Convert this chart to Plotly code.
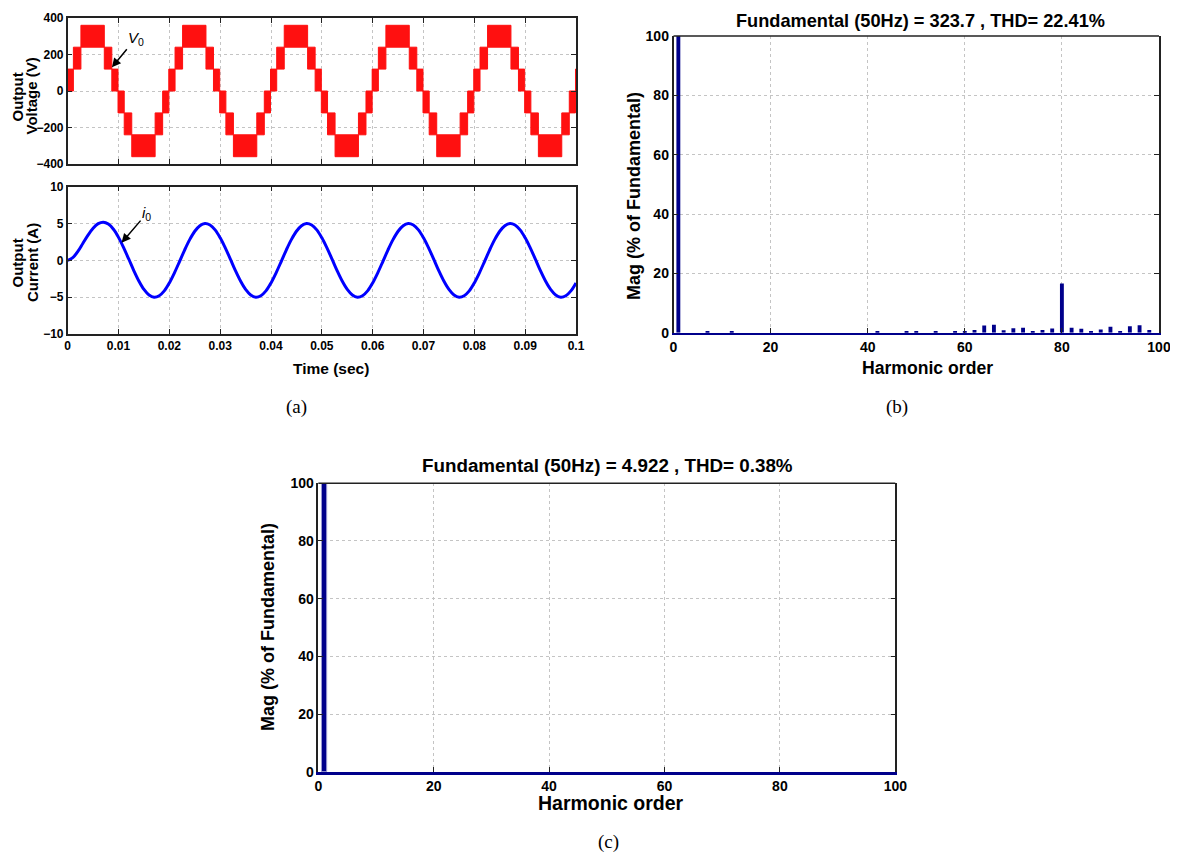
import plotly.graph_objects as go

# ---------------- data ----------------
# (a) output voltage: one fundamental cycle of the multilevel PWM staircase,
#     described as switching bands (time window in ms, lower/upper level in V)
period_ms = 20.0
n_cycles = 5
band_start_ms = [0.0, 1.12, 2.6, 7.2, 8.68, 9.9, 11.12, 12.6, 17.2, 18.68, 19.9]
band_end_ms = [1.12, 2.6, 7.2, 8.68, 9.9, 11.12, 12.6, 17.2, 18.68, 19.9, 20.0]
band_low_v = [0, 120, 240, 120, 0, -120, -240, -360, -240, -120, 0]
band_high_v = [120, 240, 360, 240, 120, 0, -120, -240, -120, 0, 120]

# (a) output current, read every 1 ms from 0 to 100 ms
current_step_ms = 1.0
current_a = [
    0.00, 0.36, 1.21, 2.32, 3.43, 4.36, 4.98, 5.19, 4.92, 4.22,
    3.12, 1.73, 0.19, -1.38, -2.80, -3.95, -4.70, -5.00, -4.80, -4.14,
    -3.06, -1.69, -0.16, 1.40, 2.81, 3.95, 4.70, 5.00, 4.80, 4.14,
    3.06, 1.69, 0.16, -1.40, -2.81, -3.95, -4.70, -5.00, -4.80, -4.14,
    -3.06, -1.69, -0.16, 1.40, 2.81, 3.95, 4.70, 5.00, 4.80, 4.14,
    3.06, 1.69, 0.16, -1.40, -2.81, -3.95, -4.70, -5.00, -4.80, -4.14,
    -3.06, -1.69, -0.16, 1.40, 2.81, 3.95, 4.70, 5.00, 4.80, 4.14,
    3.06, 1.69, 0.16, -1.40, -2.81, -3.95, -4.70, -5.00, -4.80, -4.14,
    -3.06, -1.69, -0.16, 1.40, 2.81, 3.95, 4.70, 5.00, 4.80, 4.14,
    3.06, 1.69, 0.16, -1.40, -2.81, -3.95, -4.70, -5.00, -4.80, -4.14,
    -3.06,
]
time_ticks = [0, 0.01, 0.02, 0.03, 0.04, 0.05, 0.06, 0.07, 0.08, 0.09, 0.1]
time_ticktext = ["0", "0.01", "0.02", "0.03", "0.04", "0.05", "0.06", "0.07", "0.08", "0.09", "0.1"]
volt_ticks = [-400, -200, 0, 200, 400]
curr_ticks = [-10, -5, 0, 5, 10]

# (b) voltage spectrum (% of fundamental)
b_order = [1, 7, 12, 42, 48, 50, 54, 58, 60, 62, 64, 66, 68, 70, 72, 74, 76, 78,
           80, 82, 84, 86, 88, 90, 92, 94, 96, 98]
b_mag = [100, 0.3, 0.3, 0.3, 0.3, 0.3, 0.3, 0.3, 0.4, 0.9, 2.4, 2.7, 0.8, 1.5, 1.7, 0.4, 0.9, 1.4,
         16.6, 1.7, 1.3, 0.45, 1.1, 2.0, 0.45, 2.2, 2.5, 0.9]
b_title = "Fundamental (50Hz) = 323.7 , THD= 22.41%"

# (c) current spectrum (% of fundamental)
c_order = [1]
c_mag = [100]
c_title = "Fundamental (50Hz) = 4.922 , THD= 0.38%"

spec_ticks = [0, 20, 40, 60, 80, 100]

# ---------------- figure ----------------
SANS = "Liberation Sans, Arial"
SERIF = "Liberation Serif, Times New Roman"
AX = "#222222"
GRID = "#c4c4c4"
NAVY = "#00008B"

W = 1178.0
H = 853.0
OFF = 8.0  # page body margin in front of the figure


def px(xp, yp):
    return (xp - OFF) / W, 1 - (yp - OFF) / H


def xdom(x0, x1):
    return [(x0 - OFF) / W, (x1 - OFF) / W]


def ydom(top, bottom):
    return [1 - (bottom - OFF) / H, 1 - (top - OFF) / H]


fig = go.Figure()

# voltage bands
vx, vy = [], []
for k in range(n_cycles):
    off = k * period_ms
    for s, e, lo, hi in zip(band_start_ms, band_end_ms, band_low_v, band_high_v):
        s_t = (s + off) / 1000.0
        e_t = (e + off) / 1000.0
        vx += [s_t, e_t, e_t, s_t, s_t, None]
        vy += [lo, lo, hi, hi, lo, None]
fig.add_trace(go.Scatter(x=vx, y=vy, mode="lines", fill="toself", fillcolor="#ff1010",
                         line=dict(color="#ff1010", width=1), xaxis="x", yaxis="y",
                         hoverinfo="skip", showlegend=False))

# current
t_cur = [i * current_step_ms / 1000.0 for i in range(len(current_a))]
fig.add_trace(go.Scatter(x=t_cur, y=current_a, mode="lines",
                         line=dict(color="#0000ff", width=3, shape="spline"),
                         xaxis="x2", yaxis="y2", showlegend=False))

# spectra
fig.add_trace(go.Bar(x=b_order, y=b_mag, width=0.8, marker=dict(color=NAVY, line=dict(width=0)),
                     xaxis="x3", yaxis="y3", showlegend=False))
fig.add_trace(go.Bar(x=c_order, y=c_mag, width=0.9,
                     marker=dict(color=NAVY, line=dict(color="#9a9ad0", width=1)),
                     xaxis="x4", yaxis="y4", showlegend=False))

tick_a = dict(family=SANS, size=12, color="black", weight="bold")
tick_b = dict(family=SANS, size=14, color="black", weight="bold")


def ax_common(**kw):
    d = dict(showline=True, linecolor=AX, linewidth=1.5, mirror="ticks", ticks="inside",
             ticklen=5, tickcolor=AX, showgrid=True, gridcolor=GRID, griddash="dot",
             gridwidth=1, zeroline=False, automargin=False)
    d.update(kw)
    return d


xa_dom = xdom(67.7, 576)
fig.update_layout(
    width=1178, height=853, margin=dict(l=0, r=0, t=0, b=0, pad=0),
    paper_bgcolor="white", plot_bgcolor="white", showlegend=False, barmode="overlay",
    xaxis=ax_common(domain=xa_dom, anchor="y", range=[0, 0.1], tickvals=time_ticks,
                    showticklabels=False),
    yaxis=ax_common(domain=ydom(18, 164), anchor="x", range=[-400, 400], tickvals=volt_ticks,
                    tickfont=tick_a),
    xaxis2=ax_common(domain=xa_dom, anchor="y2", range=[0, 0.1], tickvals=time_ticks,
                     ticktext=time_ticktext, tickfont=tick_a),
    yaxis2=ax_common(domain=ydom(186.7, 334), anchor="x2", range=[-10, 10], tickvals=curr_ticks,
                     tickfont=tick_a),
    xaxis3=ax_common(domain=xdom(673.5, 1159), anchor="y3", range=[0, 100], tickvals=spec_ticks,
                     tickfont=tick_b, mirror=False, linecolor=NAVY, linewidth=2),
    yaxis3=ax_common(domain=ydom(36, 332.7), anchor="x3", range=[0, 100], tickvals=spec_ticks,
                     tickfont=tick_b),
    xaxis4=ax_common(domain=xdom(318.3, 895.3), anchor="y4", range=[0, 100], tickvals=spec_ticks,
                     tickfont=tick_b, mirror=False, linecolor=NAVY, linewidth=2.5),
    yaxis4=ax_common(domain=ydom(483.3, 771.7), anchor="x4", range=[0, 100], tickvals=spec_ticks,
                     tickfont=tick_b),
)

# top borders of spectrum frames
for xr, yr in (("x3 domain", "y3 domain"), ("x4 domain", "y4 domain")):
    fig.add_shape(type="line", xref=xr, yref=yr, x0=0, x1=1, y0=1, y1=1,
                  line=dict(color=AX, width=1.5))


def txt(text, x, y, size, family=SANS, bold=True, angle=0):
    fig.add_annotation(text=text, x=x, y=y, xref="paper", yref="paper", showarrow=False,
                       xanchor="center", yanchor="middle", textangle=angle,
                       font=dict(family=family, size=size, color="black",
                                 weight="bold" if bold else "normal"))


# titles
txt(b_title, *px(920, 21), size=18.2)
txt(c_title, *px(607, 466), size=18.8)
# x-axis titles
txt("Time (sec)", *px(331, 368), size=15.5)
txt("Harmonic order", *px(927, 368), size=17.6)
txt("Harmonic order", *px(611, 803), size=19.5)
# y-axis titles
txt("Mag (% of Fundamental)", *px(634, 196), size=18, angle=-90)
txt("Mag (% of Fundamental)", *px(268, 627), size=18, angle=-90)
txt("Output", *px(16.5, 97), size=15, angle=-90)
txt("Voltage (V)", *px(31.5, 96), size=15, angle=-90)
txt("Output", *px(16.5, 263), size=15, angle=-90)
txt("Current (A)", *px(32, 263), size=15, angle=-90)
# panel labels
txt("(a)", *px(296, 407), size=19, family=SERIF, bold=False)
txt("(b)", *px(897, 407), size=19, family=SERIF, bold=False)
txt("(c)", *px(608, 842), size=19, family=SERIF, bold=False)

# pointer annotations
fig.add_annotation(x=0.0087, y=130, xref="x", yref="y", text="<i>V</i><sub>0</sub>",
                   showarrow=True, ax=24, ay=-29, arrowhead=2, arrowsize=1.2, arrowwidth=1.5,
                   arrowcolor="black", font=dict(family=SANS, size=15, color="black"))
fig.add_annotation(x=0.0106, y=2.4, xref="x2", yref="y2", text="<i>i</i><sub>0</sub>",
                   showarrow=True, ax=25, ay=-29, arrowhead=2, arrowsize=1.2, arrowwidth=1.5,
                   arrowcolor="black", font=dict(family=SANS, size=15, color="black"))

fig.write_html("out.html")
